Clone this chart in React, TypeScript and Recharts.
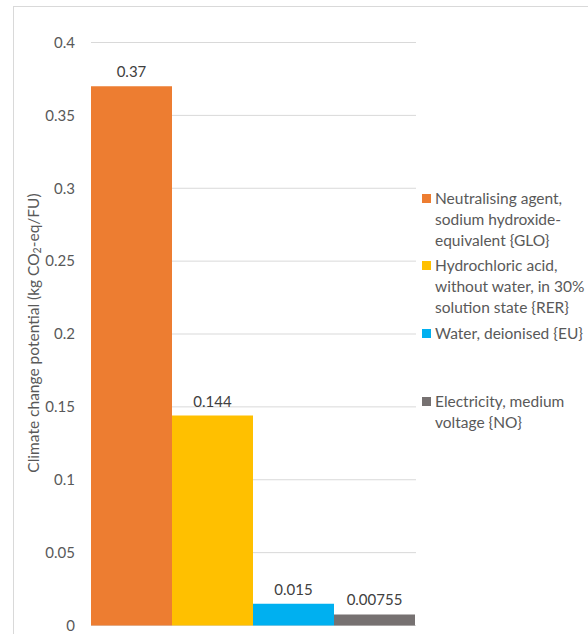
import React from 'react';
import { BarChart, Bar, XAxis, YAxis, CartesianGrid, Legend, LabelList, Label } from 'recharts';

// Climate change contributions per functional unit
const seriesKeys = ['naoh', 'hcl', 'water', 'elec'];
const seriesNames = [
  'Neutralising agent, sodium hydroxide-equivalent {GLO}',
  'Hydrochloric acid, without water, in 30% solution state {RER}',
  'Water, deionised {EU}',
  'Electricity, medium voltage {NO}',
];
const seriesValues = [0.37, 0.144, 0.015, 0.00755];
const seriesColors = ['#ED7D31', '#FFC000', '#00B0F0', '#767171'];
const legendLines = [
  ['Neutralising agent,', 'sodium hydroxide-', 'equivalent {GLO}'],
  ['Hydrochloric acid,', 'without water, in 30%', 'solution state {RER}'],
  ['Water, deionised {EU}'],
  ['Electricity, medium', 'voltage {NO}'],
];
const yTicks = [0, 0.05, 0.1, 0.15, 0.2, 0.25, 0.3, 0.35, 0.4];

const data = [
  seriesKeys.reduce((row: Record<string, number | string>, k, i) => {
    row[k] = seriesValues[i];
    return row;
  }, { name: '' }),
];

const FONT = 'Lato, "Open Sans", sans-serif';
const TEXT = '#595959';

const AxisTitle = () => (
  <text
    transform="translate(33, 333) rotate(-90)"
    textAnchor="middle"
    dominantBaseline="central"
    fontFamily={FONT}
    fontSize={15.5}
    fill={TEXT}
  >
    Climate change potential (kg CO
    <tspan fontSize={10.5} dy={4}>2</tspan>
    <tspan dy={-4}>-eq/FU)</tspan>
  </text>
);

const LegendBox = () => (
  <div style={{ position: 'relative', width: 170, height: 280, fontFamily: FONT, fontSize: 15.5, color: TEXT }}>
    {legendLines.map((lines, i) => (
      <div
        key={seriesKeys[i]}
        title={seriesNames[i]}
        style={{ position: 'absolute', left: 0, top: i * 67.7, lineHeight: '21px' }}
      >
        <span
          style={{
            position: 'absolute',
            left: 1,
            top: 6,
            width: 9,
            height: 9,
            background: seriesColors[i],
          }}
        />
        <div style={{ marginLeft: 14, whiteSpace: 'nowrap' }}>
          {lines.map((ln) => (
            <div key={ln}>{ln}</div>
          ))}
        </div>
      </div>
    ))}
  </div>
);

export default function App() {
  return (
    <div style={{ position: 'absolute', left: 0, top: 0, width: 588, height: 634, overflow: 'hidden', background: '#fff' }}>
      <div
        style={{
          position: 'absolute',
          left: 13,
          top: 6,
          width: 700,
          height: 700,
          border: '1px solid #d9d9d9',
          boxSizing: 'border-box',
        }}
      />
      <div style={{ position: 'absolute', left: 0, top: 0 }}>
        <BarChart
          width={588}
          height={634}
          data={data}
          margin={{ top: 42.5, right: 172, bottom: 8.5, left: 0 }}
          barCategoryGap={0}
          barGap={0}
        >
          <CartesianGrid vertical={false} stroke="#d9d9d9" strokeWidth={1} />
          <XAxis dataKey="name" hide />
          <YAxis
            type="number"
            width={91}
            domain={[0, 0.4]}
            ticks={yTicks}
            interval={0}
            axisLine={false}
            tickLine={false}
            tickMargin={10}
            tick={{ fontFamily: FONT, fontSize: 15, fill: TEXT }}
            tickFormatter={(v: number) => String(v)}
          >
            <Label content={<AxisTitle />} />
          </YAxis>
          <Legend
            layout="horizontal"
            align="center"
            verticalAlign="middle"
            content={<LegendBox />}
            wrapperStyle={{ left: 421, top: 187.5, width: 170, height: 280 }}
          />
          {seriesKeys.map((k, i) => (
            <Bar key={k} dataKey={k} name={seriesNames[i]} fill={seriesColors[i]} isAnimationActive={false}>
              <LabelList
                dataKey={k}
                position="top"
                offset={9}
                fill="#404040"
                fontFamily={FONT}
                fontSize={15}
                formatter={(v: number) => String(v)}
              />
            </Bar>
          ))}
        </BarChart>
      </div>
    </div>
  );
}
